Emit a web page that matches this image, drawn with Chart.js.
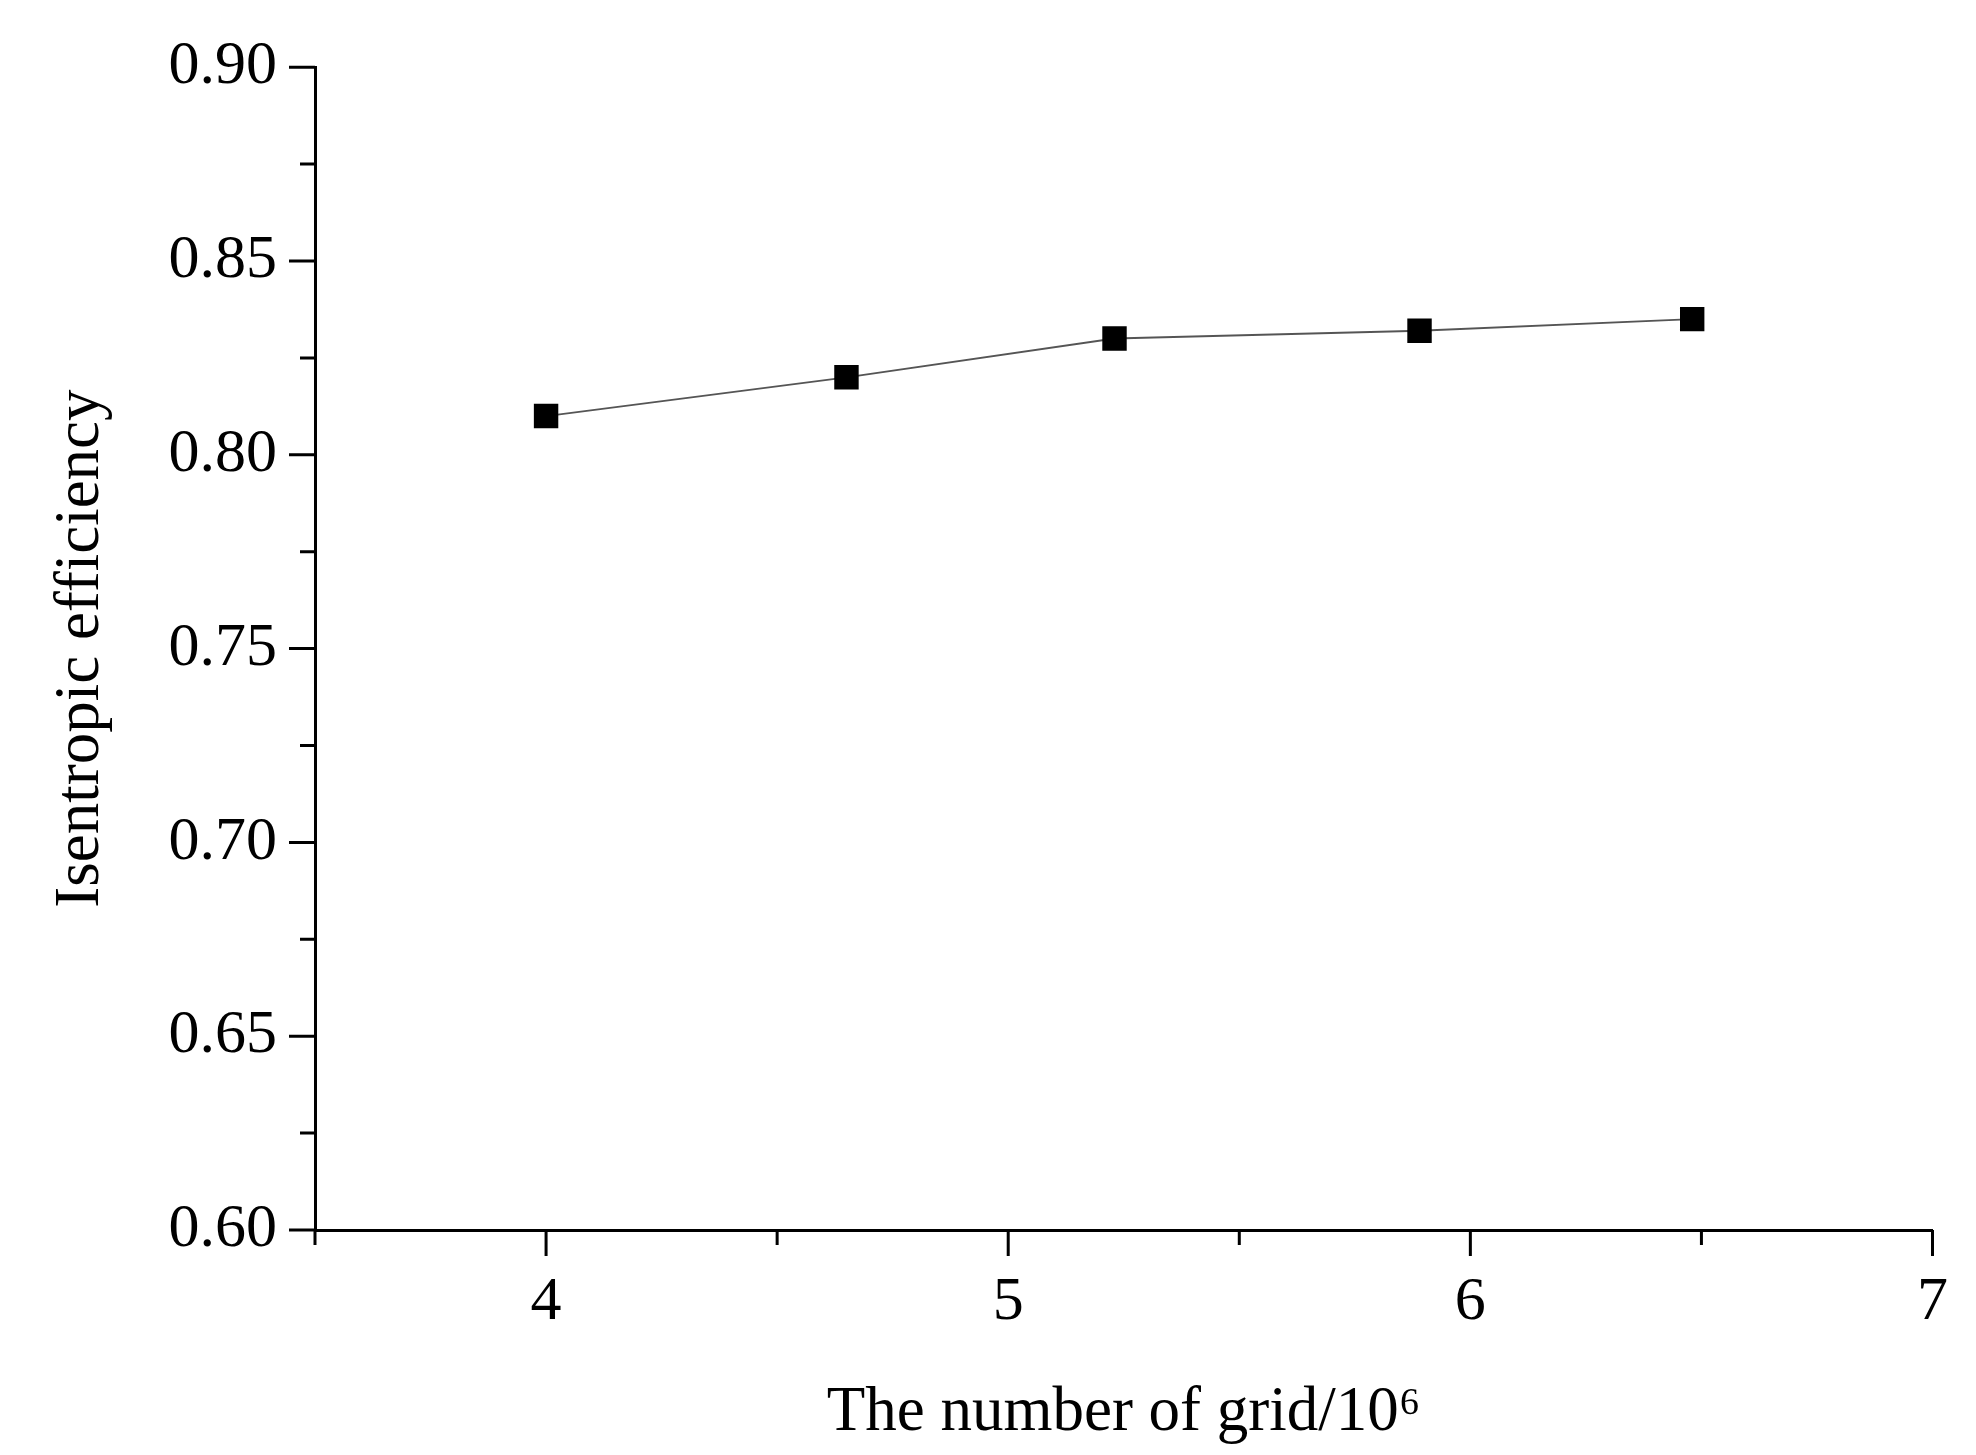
<!DOCTYPE html>
<html>
<head>
<meta charset="utf-8">
<script src="https://cdn.jsdelivr.net/npm/chart.js@4"></script>
<style>
  html, body { margin: 0; padding: 0; background: #fff; }
  #wrap { width: 1976px; height: 1455px; }
</style>
</head>
<body>
<div id="wrap"><canvas id="myChart" width="1976" height="1455"></canvas></div>
<script>
const gridCount = [4.0, 4.65, 5.23, 5.89, 6.48];
const efficiency = [0.81, 0.82, 0.83, 0.832, 0.835];
const xMajor = [4, 5, 6, 7];
const xMinor = [3.5, 4.5, 5.5, 6.5];
const yMajor = [0.60, 0.65, 0.70, 0.75, 0.80, 0.85, 0.90];
const yMinor = [0.625, 0.675, 0.725, 0.775, 0.825, 0.875];

const font = "'Liberation Serif', 'Times New Roman', serif";

// outward ticks, major and minor
const tickMarks = {
  id: "tickMarks",
  afterDraw(c) {
    const ctx = c.ctx;
    const xs = c.scales.x, ys = c.scales.y;
    const area = c.chartArea;
    ctx.save();
    ctx.strokeStyle = "#000";
    ctx.lineWidth = 3;
    ctx.beginPath();
    xMajor.forEach((v) => { const p = xs.getPixelForValue(v); ctx.moveTo(p, area.bottom); ctx.lineTo(p, area.bottom + 26); });
    xMinor.forEach((v) => { const p = xs.getPixelForValue(v); ctx.moveTo(p, area.bottom); ctx.lineTo(p, area.bottom + 15); });
    yMajor.forEach((v) => { const p = ys.getPixelForValue(v); ctx.moveTo(area.left, p); ctx.lineTo(area.left - 26, p); });
    yMinor.forEach((v) => { const p = ys.getPixelForValue(v); ctx.moveTo(area.left, p); ctx.lineTo(area.left - 15, p); });
    ctx.stroke();
    ctx.restore();
  },
};

new Chart("myChart", {
  type: "line",
  data: {
    datasets: [{
      data: gridCount.map((x, i) => ({ x: x, y: efficiency[i] })),
      borderColor: "#555",
      borderWidth: 1.8,
      pointStyle: "rect",
      pointRadius: 16,
      pointBackgroundColor: "#000",
      pointBorderColor: "#000",
      tension: 0,
    }],
  },
  options: {
    responsive: false,
    animation: false,
    devicePixelRatio: 1,
    layout: { padding: { top: 52, right: 43, left: 40, bottom: 0 } },
    plugins: { legend: { display: false }, tooltip: { enabled: false } },
    scales: {
      x: {
        type: "linear",
        min: 3.5,
        max: 7,
        afterFit: (s) => { s.height = 225; },
        afterBuildTicks: (s) => { s.ticks = xMajor.map((v) => ({ value: v })); },
        grid: { display: false },
        border: { display: true, color: "#000", width: 3 },
        ticks: { padding: 28, color: "#000", font: { family: font, size: 62 } },
        title: { display: true, text: "The number of grid/10\u2076", color: "#000", padding: { top: 0 }, font: { family: font, size: 63 } },
      },
      y: {
        min: 0.6,
        max: 0.9,
        afterFit: (s) => { s.width = 275; },
        afterBuildTicks: (s) => { s.ticks = yMajor.map((v) => ({ value: v })); },
        grid: { display: false },
        border: { display: true, color: "#000", width: 3 },
        ticks: { padding: 30, color: "#000", font: { family: font, size: 62 }, callback: (v) => v.toFixed(2) },
        title: { display: true, text: "Isentropic efficiency", color: "#000", padding: { bottom: 0 }, font: { family: font, size: 63 } },
      },
    },
  },
  plugins: [tickMarks],
});
</script>
</body>
</html>
